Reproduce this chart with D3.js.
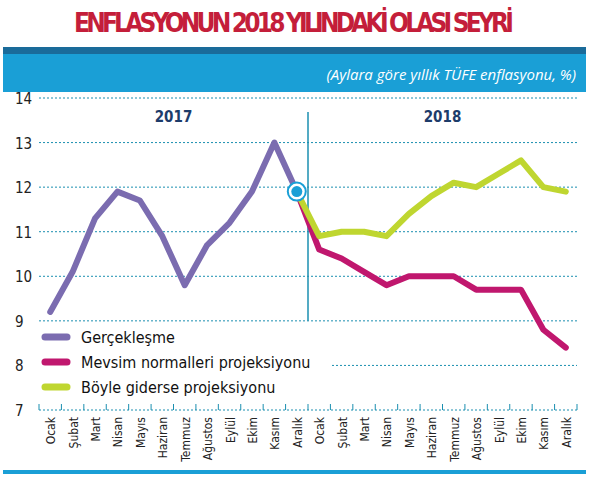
<!DOCTYPE html><html><head><meta charset="utf-8"><script src="https://cdn.jsdelivr.net/npm/d3@7"></script>
<style>body{margin:0;background:#fff}text{font-family:"DejaVu Sans Condensed","Liberation Sans Narrow",sans-serif}</style></head><body><svg id="c" width="589" height="478"></svg><script>
const months=["Ocak","Şubat","Mart","Nisan","Mayıs","Haziran","Temmuz","Ağustos","Eylül","Ekim","Kasım","Aralık"];
const categories=months.map(m=>"2017 "+m).concat(months.map(m=>"2018 "+m));
const gerceklesme=[9.2,10.1,11.3,11.9,11.7,10.9,9.8,10.7,11.2,11.9,13.0,11.9];
const mevsim=[11.9,10.6,10.4,10.1,9.8,10.0,10.0,10.0,9.7,9.7,9.7,8.8,8.4];
const boyle=[11.9,10.9,11.0,11.0,10.9,11.4,11.8,12.1,12.0,12.3,12.6,12.0,11.9];
const yTicks=[7,8,9,10,11,12,13,14];
const years=["2017","2018"];
const legendNames=["Gerçekleşme","Mevsim normalleri projeksiyonu","Böyle giderse projeksiyonu"];
const colors=["#7b6cb0","#c0176e","#bfd630"];
const grid="#1b8fb0";
const svg=d3.select("#c");
svg.append("text").attr("x",294).attr("y",32).attr("text-anchor","middle").attr("fill","#c41e3a")
 .attr("font-size",26).attr("font-weight","bold").attr("textLength",440).text("ENFLASYONUN 2018 YILINDAKİ OLASI SEYRİ");
svg.append("rect").attr("x",3).attr("y",47).attr("width",583).attr("height",7).attr("fill","#1a6b9a");
svg.append("rect").attr("x",3).attr("y",54).attr("width",583).attr("height",38).attr("fill","#1a9fd6");
svg.append("text").attr("x",576).attr("y",80).attr("text-anchor","end").attr("fill","#fff").attr("font-size",15)
 .attr("font-style","italic").style("font-family","'Open Sans',sans-serif").text("(Aylara göre yıllık TÜFE enflasyonu, %)");
svg.append("rect").attr("x",3).attr("y",470).attr("width",583).attr("height",4).attr("fill","#1a9fd6");
const x=d3.scaleBand().domain(categories).range([39,577]);
const y=d3.scaleLinear().domain([7,14]).range([410,98]);
const cx=c=>x(c)+x.bandwidth()/2;
// grid
yTicks.forEach(t=>{
 const x0=(t===8)?332:39;
 svg.append("line").attr("x1",x0).attr("x2",577).attr("y1",y(t)).attr("y2",y(t)).attr("stroke",grid).attr("stroke-dasharray","2,2").attr("stroke-width",1);
 svg.append("text").attr("x",15).attr("y",y(t)+6).attr("font-size",15).attr("fill","#222").text(t);
});
// tick marks
categories.concat(["end"]).forEach((c,i)=>{
 const xx=i<24?x(c):577;
 svg.append("line").attr("x1",xx).attr("x2",xx).attr("y1",y(7)).attr("y2",y(7)-6).attr("stroke",grid);
});
// divider
const xd=x(categories[12]);
svg.append("line").attr("x1",xd).attr("x2",xd).attr("y1",112).attr("y2",y(9)).attr("stroke",grid).attr("stroke-width",1.5);
svg.append("text").attr("x",(39+xd)/2).attr("y",122).attr("text-anchor","middle").attr("font-size",15).attr("font-weight","bold").attr("fill","#1d3c6a").text(years[0]);
svg.append("text").attr("x",(xd+577)/2).attr("y",122).attr("text-anchor","middle").attr("font-size",15).attr("font-weight","bold").attr("fill","#1d3c6a").text(years[1]);
// x labels
categories.forEach(c=>{
 svg.append("text").attr("transform",`translate(${cx(c)+5},417) rotate(-90)`).attr("text-anchor","end").attr("font-size",12).attr("fill","#222").text(c.slice(5));
});
const line=d3.line().x(d=>cx(d[0])).y(d=>y(d[1]));
const proj=categories.slice(11);
svg.append("path").datum(proj.map((c,i)=>[c,mevsim[i]])).attr("d",line).attr("fill","none").attr("stroke",colors[1]).attr("stroke-width",6).attr("stroke-linecap","round").attr("stroke-linejoin","round");
svg.append("path").datum(proj.map((c,i)=>[c,boyle[i]])).attr("d",line).attr("fill","none").attr("stroke",colors[2]).attr("stroke-width",6).attr("stroke-linecap","round").attr("stroke-linejoin","round");
svg.append("path").datum(categories.slice(0,12).map((c,i)=>[c,gerceklesme[i]])).attr("d",line).attr("fill","none").attr("stroke",colors[0]).attr("stroke-width",6).attr("stroke-linecap","round").attr("stroke-linejoin","round");
const mc=categories[11];
svg.append("circle").attr("cx",cx(mc)).attr("cy",y(gerceklesme[11])).attr("r",9).attr("fill","#fff").attr("stroke","#1a9fd6").attr("stroke-width",2);
svg.append("circle").attr("cx",cx(mc)).attr("cy",y(gerceklesme[11])).attr("r",5.5).attr("fill","#1a9fd6");
// legend
legendNames.forEach((n,i)=>{
 const ly=337+i*25;
 svg.append("line").attr("x1",45).attr("x2",67).attr("y1",ly).attr("y2",ly).attr("stroke",colors[i]).attr("stroke-width",7).attr("stroke-linecap","round");
 svg.append("text").attr("x",81).attr("y",ly+6).attr("font-size",16).attr("fill","#111").text(n);
});
</script></body></html>
